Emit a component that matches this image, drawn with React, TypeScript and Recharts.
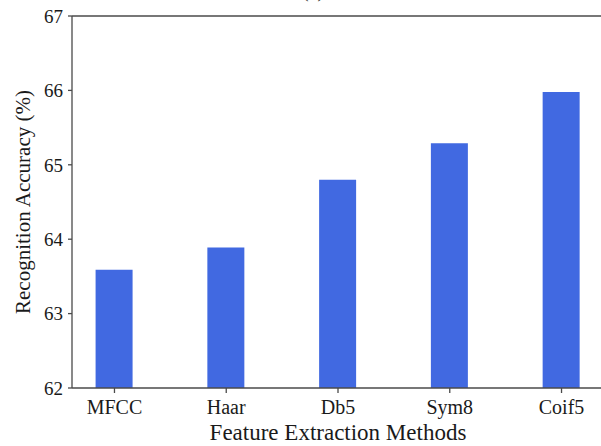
import React from 'react';
import { BarChart, Bar, XAxis, YAxis, ReferenceLine } from 'recharts';

const methods = ['MFCC', 'Haar', 'Db5', 'Sym8', 'Coif5'];
const accuracy = [63.59, 63.89, 64.8, 65.29, 65.98];
const yTicks = [62, 63, 64, 65, 66, 67];

const data = methods.map((name, i) => ({ idx: i, name, accuracy: accuracy[i] }));

const FONT = 'Liberation Serif';
const AXIS = '#4a4a4a';

const App: React.FC = () => (
  <div style={{ position: 'absolute', left: 0, top: 0, width: 601, height: 446, overflow: 'hidden', background: '#fff', fontFamily: FONT }}>
    {/* panel tag, cut off by the top edge as in the source figure */}
    <div style={{ position: 'absolute', left: 302, top: -21, fontSize: 20, lineHeight: '23px', color: '#333' }}>(a)</div>
    <BarChart width={610} height={446} data={data} margin={{ top: 16, right: 6, left: 0, bottom: 0 }} style={{ fontFamily: FONT }}>
      <XAxis
        dataKey="idx"
        type="number"
        domain={[-0.38, 4.38]}
        ticks={[0, 1, 2, 3, 4]}
        tickFormatter={(v: number) => methods[v]}
        height={58}
        stroke={AXIS}
        strokeWidth={1.3}
        tickSize={5}
        tickMargin={7}
        tick={{ fill: '#1a1a1a', fontFamily: FONT, fontSize: 20 }}
        label={{ value: 'Feature Extraction Methods', position: 'insideBottom', offset: 6, style: { fill: '#1a1a1a', fontFamily: FONT, fontSize: 23 } }}
      />
      <YAxis
        type="number"
        domain={[62, 67]}
        ticks={yTicks}
        allowDataOverflow
        width={72}
        stroke={AXIS}
        strokeWidth={1.3}
        tickSize={4}
        tickMargin={5}
        tick={{ fill: '#1a1a1a', fontFamily: FONT, fontSize: 19 }}
        label={{ value: 'Recognition Accuracy (%)', angle: -90, position: 'insideLeft', offset: 23, style: { textAnchor: 'middle', fill: '#1a1a1a', fontFamily: FONT, fontSize: 21 } }}
      />
      <ReferenceLine y={67} stroke={AXIS} strokeWidth={1.3} />
      <Bar dataKey="accuracy" fill="#4169E1" barSize={37} isAnimationActive={false} />
    </BarChart>
  </div>
);

export default App;
